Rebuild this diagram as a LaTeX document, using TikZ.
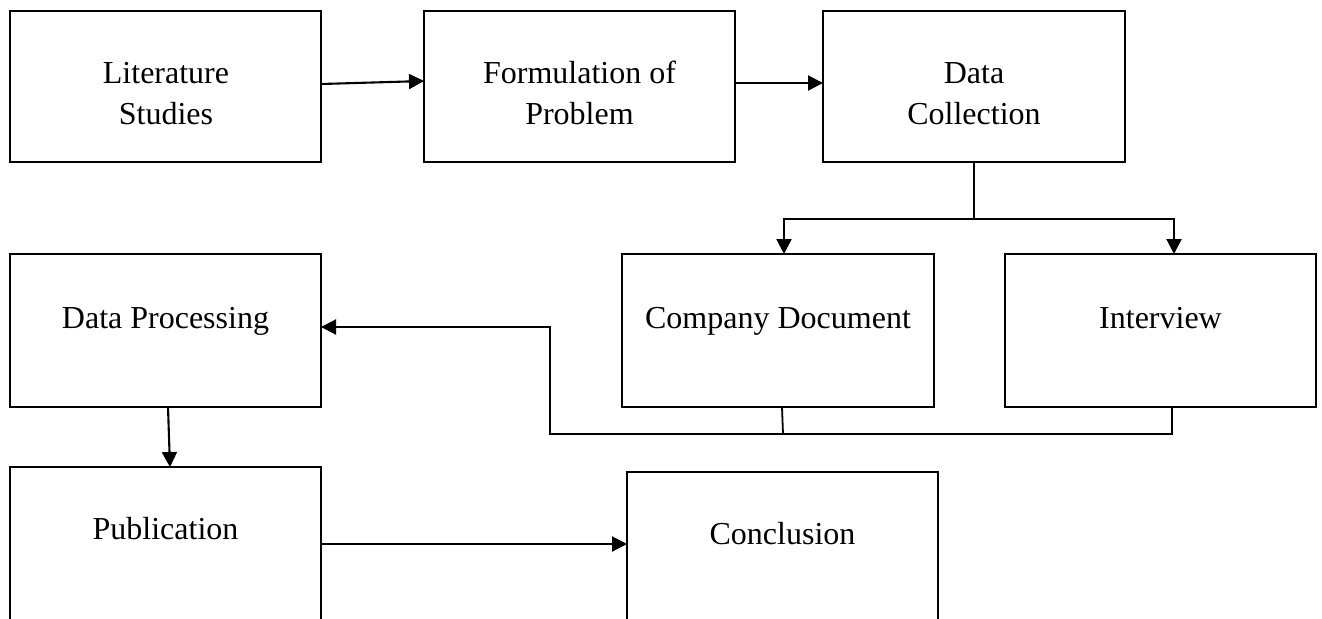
\documentclass[tikz,border=0pt]{standalone}
\usepackage{fontspec}
\setmainfont{Liberation Serif}
\usetikzlibrary{arrows.meta}
\begin{document}
\begin{tikzpicture}[x=0.5pt,y=-0.5pt,
  box/.style={draw=black,line width=1pt,fill=white,inner sep=0pt,outer sep=0pt,minimum width=155.5pt},
  txt/.style={anchor=base,inner sep=0pt,font=\fontsize{16pt}{20.5pt}\selectfont},
  arr/.style={draw=black,line width=1.05pt,-{Triangle[length=7.5pt,width=7.5pt]}},
  plain/.style={draw=black,line width=0.9pt}]
\fill[white] (0,0) rectangle (1322,618);
\useasboundingbox (0,0) rectangle (1322,618);
\clip (0,0) rectangle (1322,618);
% boxes
\node[box,minimum height=75.5pt] (lit) at (165.5,86.5) {};
\node[box,minimum height=75.5pt] (form) at (579.5,86.5) {};
\node[box,minimum width=151pt,minimum height=75.5pt] (dc) at (974,86.5) {};
\node[box,minimum width=156pt,minimum height=76.5pt] (cd) at (778,330.5) {};
\node[box,minimum height=76.5pt] (int) at (1160.5,330.5) {};
\node[box,minimum height=76.5pt] (dp) at (165.5,330.5) {};
\node[box,minimum height=81.5pt] (pub) at (165.5,548.5) {};
\node[box,minimum height=81.5pt] (concl) at (782.5,553.5) {};
% texts
\node[txt] (litA) at (166,83) {Literature};
\node[txt] (litB) at (166,124) {Studies};
\node[txt] (formA) at (579.5,83) {Formulation of};
\node[txt] (formB) at (579.5,124) {Problem};
\node[txt] (dcA) at (974,83) {Data};
\node[txt] (dcB) at (974,124) {Collection};
\node[txt] (cdT) at (778,328) {Company Document};
\node[txt] (intT) at (1160.5,328) {Interview};
\node[txt] (dpT) at (165.5,328) {Data Processing};
\node[txt] (pubT) at (165.5,539) {Publication};
\node[txt] (conclT) at (782.5,544) {Conclusion};
% coordinates
\coordinate (split) at (974,219);
\coordinate (cdj) at (783,434);
\coordinate (j1) at (550,434);
% connectors
\draw[arr] (lit.east |- 0,84) -- (form.west |- 0,81);
\draw[arr] (form.east |- 0,83) -- (dc.west |- 0,83);
\draw[plain] (dc.south) -- (split);
\draw[arr] (split) -| (cd.north -| 784,0);
\draw[arr] (split) -| (int.north -| 1174,0);
\draw[plain] (cd.south -| 782,0) -- (cdj);
\draw[arr] (int.south -| 1172,0) |- (j1) |- (dp.east |- 0,327);
\draw[arr] (dp.south -| 168,0) -- (pub.north -| 170,0);
\draw[arr] (pub.east |- 0,544) -- (concl.west |- 0,544);
\end{tikzpicture}
\end{document}
